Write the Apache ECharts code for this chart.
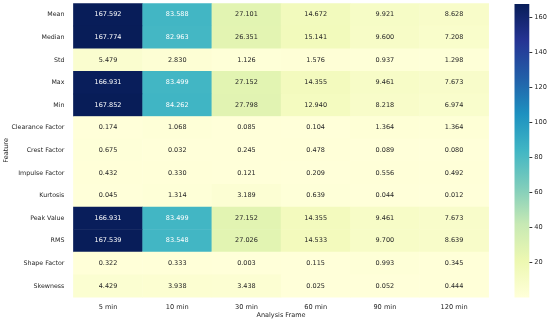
<!DOCTYPE html>
<html>
<head>
<meta charset="utf-8">
<script src="https://cdn.jsdelivr.net/npm/echarts@6/dist/echarts.min.js"></script>
<style>
  html, body { margin: 0; padding: 0; background: #fff; }
  #chart { width: 550px; height: 323px; }
</style>
</head>
<body>
<div id="chart"></div>
<script>
const frames = ['5 min', '10 min', '30 min', '60 min', '90 min', '120 min'];
const features = ['Mean', 'Median', 'Std', 'Max', 'Min', 'Clearance Factor', 'Crest Factor',
  'Impulse Factor', 'Kurtosis', 'Peak Value', 'RMS', 'Shape Factor', 'Skewness'];

// one row per feature, one value per frame
const mean = [167.592, 83.588, 27.101, 14.672, 9.921, 8.628];
const median = [167.774, 82.963, 26.351, 15.141, 9.600, 7.208];
const std = [5.479, 2.830, 1.126, 1.576, 0.937, 1.298];
const max = [166.931, 83.499, 27.152, 14.355, 9.461, 7.673];
const min = [167.852, 84.262, 27.798, 12.940, 8.218, 6.974];
const clearance = [0.174, 1.068, 0.085, 0.104, 1.364, 1.364];
const crest = [0.675, 0.032, 0.245, 0.478, 0.089, 0.080];
const impulse = [0.432, 0.330, 0.121, 0.209, 0.556, 0.492];
const kurtosis = [0.045, 1.314, 3.189, 0.639, 0.044, 0.012];
const peak = [166.931, 83.499, 27.152, 14.355, 9.461, 7.673];
const rms = [167.539, 83.548, 27.026, 14.533, 9.700, 8.639];
const shape = [0.322, 0.333, 0.003, 0.115, 0.993, 0.345];
const skewness = [4.429, 3.938, 3.438, 0.025, 0.052, 0.444];

const rows = [mean, median, std, max, min, clearance, crest, impulse, kurtosis, peak, rms, shape, skewness];

const colorTicks = [20, 40, 60, 80, 100, 120, 140, 160];

// YlGnBu
const ylgnbu = ['#ffffd9', '#edf8b1', '#c7e9b4', '#7fcdbb', '#41b6c4', '#1d91c0', '#225ea8', '#253494', '#081d58'];

const all = rows.flat();
const vmin = Math.min(...all);
const vmax = Math.max(...all);

const cells = [];
rows.forEach((row, r) => {
  row.forEach((v, c) => {
    cells.push({
      value: [c, r, v],
      label: { color: (v - vmin) / (vmax - vmin) > 0.45 ? '#ffffff' : '#262626' }
    });
  });
});

const chart = echarts.init(document.getElementById('chart'));
const font = 'DejaVu Sans';
const fs = 6.3;

chart.setOption({
  animation: false,
  textStyle: { fontFamily: font },
  grid: [
    { left: 73.4, top: 3.5, width: 415.3, height: 293.8, outerBoundsMode: 'none' },
    { left: 514.5, top: 4, width: 14.8, height: 293.5, outerBoundsMode: 'none' }
  ],
  xAxis: [
    {
      type: 'category', data: frames, gridIndex: 0,
      name: 'Analysis Frame', nameLocation: 'middle', nameGap: 15, nameMoveOverlap: false,
      nameTextStyle: { fontSize: 6.5, color: '#262626', fontFamily: font },
      axisLine: { show: false },
      axisTick: { alignWithLabel: true, length: 3.5, lineStyle: { color: '#333' } },
      axisLabel: { fontSize: 6.6, color: '#262626', margin: 6, fontFamily: font },
      splitLine: { show: false }
    },
    {
      type: 'category', data: [''], gridIndex: 1, show: false
    }
  ],
  yAxis: [
    {
      type: 'category', data: features, gridIndex: 0, inverse: true,
      name: 'Feature', nameLocation: 'middle', nameGap: 64, nameMoveOverlap: false,
      nameTextStyle: { fontSize: 6.5, color: '#262626', fontFamily: font },
      axisLine: { show: false },
      axisTick: { alignWithLabel: true, length: 3.5, lineStyle: { color: '#333' } },
      axisLabel: { fontSize: fs, color: '#262626', margin: 9, fontFamily: font },
      splitLine: { show: false }
    },
    {
      type: 'value', gridIndex: 1, position: 'right',
      min: 0, max: vmax, interval: 20,
      axisLine: { show: false },
      axisTick: { show: true, length: 3, lineStyle: { color: '#333' } },
      axisLabel: {
        fontSize: 6.6, color: '#262626', margin: 5, fontFamily: font,
        showMinLabel: false, showMaxLabel: false,
        formatter: v => (colorTicks.includes(v) ? String(v) : '')
      },
      splitLine: { show: false }
    }
  ],
  visualMap: {
    show: false, seriesIndex: 0, dimension: 2,
    min: vmin, max: vmax,
    inRange: { color: ylgnbu }
  },
  series: [
    {
      type: 'heatmap', xAxisIndex: 0, yAxisIndex: 0,
      data: cells,
      label: {
        show: true, fontSize: 6.5, fontFamily: font,
        formatter: p => p.value[2].toFixed(3)
      },
      itemStyle: { borderWidth: 0 },
      emphasis: { disabled: true }
    },
    {
      type: 'bar', xAxisIndex: 1, yAxisIndex: 1,
      data: [vmax], barWidth: '100%', silent: true,
      itemStyle: {
        color: new echarts.graphic.LinearGradient(0, 1, 0, 0,
          ylgnbu.map((c, i) => ({ offset: i / (ylgnbu.length - 1), color: c })))
      }
    }
  ]
});
</script>
</body>
</html>
